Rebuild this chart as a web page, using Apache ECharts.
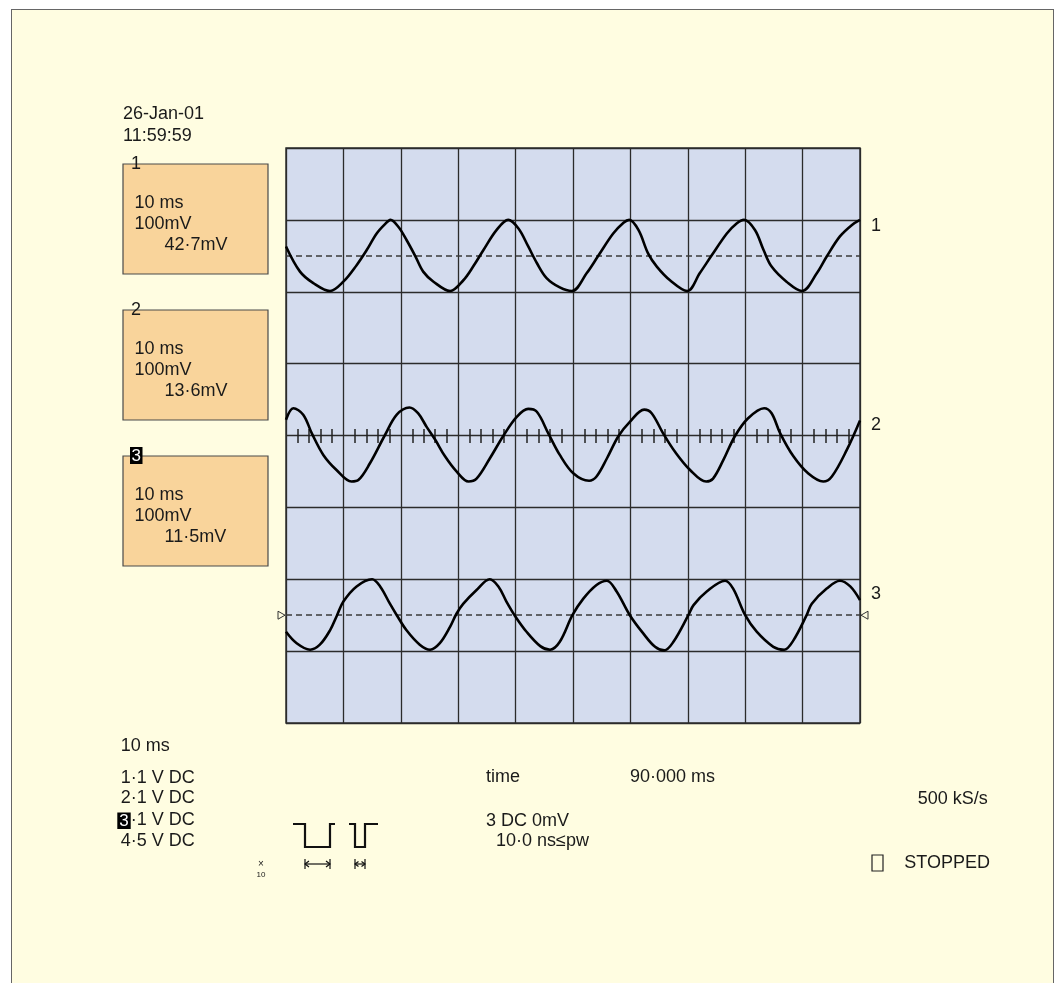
<!DOCTYPE html>
<html><head><meta charset="utf-8">
<script src="https://cdn.jsdelivr.net/npm/echarts@6/dist/echarts.min.js"></script>
<style>
html,body{margin:0;padding:0;background:#fff;}
#frame{position:absolute;left:11px;top:9px;width:1043px;height:990px;background:#FFFDE1;border:1px solid #666;box-sizing:border-box;}
#chart{position:absolute;left:0;top:0;width:1057px;height:983px;}
</style></head><body><div id="frame"></div><div id="chart"></div>
<script>
// ---- data (time in ms, value in divisions) ----
const traceNames = ['1', '2', '3'];
const t1 = [0,2.44,4.76,7.67,9.99,12.3,14.06,15.8,17.25,18.2,19.6,21.0,22.5,23.9,25.7,28.6,30.9,32.6,34.4,36.7,38.7,40.5,42.2,43.7,45.4,47.7,49.8,52.4,54.4,57.0,58.8,59.8,61.4,63.1,64.6,66.9,69.9,72.1,74.2,76.8,78.5,79.8,81.7,83.2,84.6,87.2,89.9,92.5,94.2,96.5,98.6,100];
const v1 = [2.63,2.28,2.12,2.01,2.14,2.37,2.58,2.81,2.94,3.0,2.90,2.72,2.5,2.28,2.14,2.01,2.16,2.35,2.58,2.86,3.0,2.88,2.63,2.40,2.19,2.06,2.01,2.26,2.5,2.81,2.96,3.0,2.86,2.53,2.35,2.16,2.01,2.26,2.51,2.81,2.95,3.0,2.86,2.58,2.35,2.14,2.01,2.26,2.49,2.77,2.93,3.0];
const t2 = [0,1.28,3.0,4.5,6.5,8.8,11.4,12.6,14.6,17.2,19.3,21.5,23.0,24.5,26.0,27.7,29.7,31.8,33.2,35.5,37.9,40.2,42.2,43.7,45.7,47.7,50.1,52.8,54.1,55.9,57.9,59.9,62.4,63.7,65.7,67.8,70.4,73.2,74.4,76.2,78.2,80.5,83.3,84.6,86.1,88.4,91.0,93.6,95.1,97.7,100];
const v2 = [0.22,0.38,0.29,0.03,-0.27,-0.48,-0.64,-0.62,-0.39,0.0,0.29,0.39,0.31,0.12,-0.06,-0.29,-0.50,-0.64,-0.60,-0.32,0.0,0.26,0.37,0.33,0.03,-0.27,-0.53,-0.63,-0.57,-0.32,-0.01,0.19,0.36,0.31,0.03,-0.23,-0.48,-0.64,-0.60,-0.34,-0.01,0.24,0.38,0.31,0.03,-0.29,-0.53,-0.64,-0.57,-0.20,0.21];
const t3 = [0,1.86,4.2,5.9,7.67,8.9,10.0,12.3,15.0,16.4,18.1,19.3,21.0,23.3,25.1,26.8,28.6,29.7,30.9,33.2,35.5,37.0,38.4,39.9,41.9,44.3,46.0,47.7,49.9,51.8,54.1,55.9,57.6,59.9,62.2,64.3,65.9,67.5,70.1,71.0,73.3,76.5,77.9,80.0,82.0,84.9,86.8,88.4,90.7,91.6,94.2,96.5,98.3,100];
const v3 = [-2.73,-2.89,-2.98,-2.91,-2.71,-2.50,-2.31,-2.10,-2.0,-2.10,-2.34,-2.5,-2.71,-2.91,-2.98,-2.89,-2.66,-2.48,-2.34,-2.15,-2.0,-2.10,-2.31,-2.51,-2.73,-2.93,-2.98,-2.87,-2.5,-2.27,-2.08,-2.02,-2.17,-2.5,-2.75,-2.94,-2.99,-2.87,-2.5,-2.36,-2.17,-2.02,-2.13,-2.5,-2.73,-2.94,-2.98,-2.85,-2.5,-2.34,-2.13,-2.02,-2.10,-2.29];
const traceCentres = [2.5, 0, -2.5];
const boxValues = ['42\u00B77mV', '13\u00B76mV', '11\u00B75mV'];
const timebase = '10 ms';
const voltsPerDiv = '100mV';
const dateText = '26-Jan-01';
const clockText = '11:59:59';
const channelLines = ['1\u00B71 V DC', '2\u00B71 V DC', '\u00B71 V DC', '4\u00B75 V DC'];
const timeLabel = 'time';
const timeValue = '90\u00B7000 ms';
const trigLines = ['3 DC 0mV', '10\u00B70 ns\u2264pw'];
const sampleRate = '500 kS/s';
const stateText = 'STOPPED';

const FONT = '"Liberation Sans", Arial, Helvetica, sans-serif';
const TXT = '#1a1a1a';
function pairs(t, v) { return t.map((x, i) => [x, v[i]]); }

const chart = echarts.init(document.getElementById('chart'), null, { renderer: 'canvas' });
const traceStyle = { color: '#000', width: 2.6 };
const dashStyle = { color: '#3a3a3a', width: 1.5, type: [6, 4] };
const gridLine = { color: '#2b2b2b', width: 1.3 };
function tickAxis(gi, pos) {
  return { gridIndex: gi, type: 'value', min: 0, max: 100, interval: 10, position: pos,
    axisLine: { show: false, onZero: false }, axisTick: { show: false, inside: true },
    axisLabel: { show: false }, splitLine: { show: false },
    minorTick: { show: true, splitNumber: 5, length: 7, lineStyle: { color: '#222', width: 1.5 } } };
}
const datasets = [pairs(t1, v1), pairs(t2, v2), pairs(t3, v3)];
const series = datasets.map((d, i) => {
  const s = { name: traceNames[i], type: 'line', xAxisIndex: 0, yAxisIndex: 0, data: d,
    showSymbol: false, smooth: 0.35, lineStyle: traceStyle, silent: true, z: 5 };
  if (i !== 1) {
    s.markLine = { silent: true, symbol: ['none', 'none'], label: { show: false },
      lineStyle: dashStyle, data: [{ yAxis: traceCentres[i] }], animation: false };
  }
  return s;
});

chart.setOption({
  animation: false,
  backgroundColor: 'transparent',
  grid: [
    { left: 286, top: 148, width: 574, height: 575, show: true, backgroundColor: '#D4DCEE', borderColor: '#333', borderWidth: 1.5 },
    { left: 286, top: 148, width: 574, height: 288, show: false },
    { left: 286, top: 436, width: 574, height: 287, show: false }
  ],
  xAxis: [
    { gridIndex: 0, type: 'value', min: 0, max: 100, interval: 10, axisLine: { show: false }, axisTick: { show: false }, axisLabel: { show: false }, splitLine: { show: true, lineStyle: gridLine } },
    tickAxis(1, 'bottom'),
    tickAxis(2, 'top')
  ],
  yAxis: [
    { gridIndex: 0, type: 'value', min: -4, max: 4, interval: 1, axisLine: { show: false }, axisTick: { show: false }, axisLabel: { show: false }, splitLine: { show: true, lineStyle: gridLine } },
    { gridIndex: 1, type: 'value', min: 0, max: 1, show: false },
    { gridIndex: 2, type: 'value', min: 0, max: 1, show: false }
  ],
  series: series
});

// ---- decorations ----
const g = [];
function text(x, y, str, opts) {
  opts = opts || {};
  g.push({ type: 'text', x: x, y: y, z: 10, style: { text: str, font: (opts.weight || 'normal') + ' ' + (opts.size || 18) + 'px ' + FONT,
    fill: opts.fill || TXT, align: opts.align || 'left', verticalAlign: 'middle' } });
}
function rect(x, y, w, h, fill, stroke, lw) {
  g.push({ type: 'rect', z: 9, shape: { x: x, y: y, width: w, height: h }, style: { fill: fill, stroke: stroke || null, lineWidth: lw || 1 } });
}
function poly(points, lw) {
  g.push({ type: 'polyline', z: 9, shape: { points: points }, style: { stroke: '#111', lineWidth: lw || 1.2, fill: null } });
}

text(123, 114, dateText);
text(123, 136, clockText);
const boxTops = [164, 310, 456];
boxTops.forEach((T, i) => {
  rect(123, T, 145, 110, '#F9D49B', '#4a4a4a', 1.2);
  text(134.5, T + 38.8, timebase);
  text(134.5, T + 59.6, voltsPerDiv);
  text(164.5, T + 80.8, boxValues[i]);
});
text(131, 164, traceNames[0]);
text(131, 310.5, traceNames[1]);
rect(130, 447, 12.5, 17, '#000');
text(136.3, 456, traceNames[2], { fill: '#fff', align: 'center', size: 17 });

text(120.7, 746, timebase);
text(120.7, 778, channelLines[0]);
text(120.7, 798.5, channelLines[1]);
rect(117.3, 812.5, 13.4, 16.5, '#000');
text(124, 821, traceNames[2], { fill: '#fff', align: 'center', size: 17 });
text(130.7, 820, channelLines[2]);
text(120.7, 840.7, channelLines[3]);

text(486, 777.5, timeLabel);
text(630, 777.5, timeValue);
text(486, 820.7, trigLines[0]);
text(496, 840.7, trigLines[1]);
text(917.7, 799.5, sampleRate);
text(904.3, 863, stateText);
rect(872, 855, 11, 16, null, '#222', 1.2);

text(261, 864, '\u00D7', { size: 10, align: 'center' });
text(261, 875, '10', { size: 8, align: 'center' });

// trigger pulse glyphs
poly([[293, 824], [305, 824], [305, 847], [330, 847], [330, 824], [335, 824]], 2.2);
poly([[349, 824], [355, 824], [355, 847], [365, 847], [365, 824], [378, 824]], 2.2);
poly([[305, 859], [305, 869]]); poly([[330, 859], [330, 869]]);
poly([[305, 864], [330, 864]]);
poly([[309, 861], [305, 864], [309, 867]]); poly([[326, 861], [330, 864], [326, 867]]);
poly([[355, 859], [355, 869]]); poly([[365, 859], [365, 869]]);
poly([[355, 864], [365, 864]]);
poly([[358.5, 861.5], [355, 864], [358.5, 866.5]]); poly([[361.5, 861.5], [365, 864], [361.5, 866.5]]);

// trigger level markers for trace 3
const pL = chart.convertToPixel({ xAxisIndex: 0, yAxisIndex: 0 }, [0, traceCentres[2]]);
const pR = chart.convertToPixel({ xAxisIndex: 0, yAxisIndex: 0 }, [100, traceCentres[2]]);
g.push({ type: 'polygon', z: 9, shape: { points: [[pL[0] - 8, pL[1] - 4], [pL[0] - 1, pL[1]], [pL[0] - 8, pL[1] + 4]] }, style: { fill: '#FFFDE1', stroke: '#333', lineWidth: 1 } });
g.push({ type: 'polygon', z: 9, shape: { points: [[pR[0] + 8, pR[1] - 4], [pR[0] + 1, pR[1]], [pR[0] + 8, pR[1] + 4]] }, style: { fill: '#FFFDE1', stroke: '#333', lineWidth: 1 } });

// trace name labels at the end of each trace
const endOffsets = [6, 5, -6];
datasets.forEach((d, i) => {
  const last = d[d.length - 1];
  const p = chart.convertToPixel({ xAxisIndex: 0, yAxisIndex: 0 }, last);
  text(p[0] + 11, p[1] + endOffsets[i], traceNames[i]);
});

chart.setOption({ graphic: g });
</script></body></html>
